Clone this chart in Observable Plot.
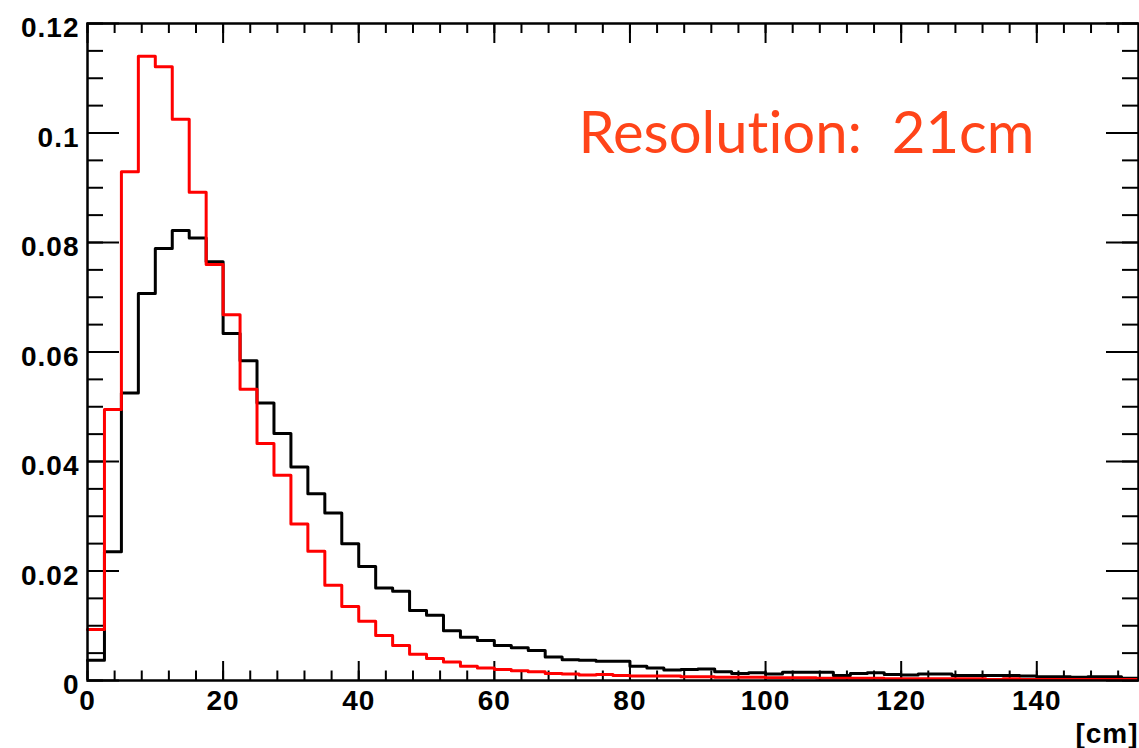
<!DOCTYPE html>
<html><head><meta charset="utf-8">
<script src="https://cdn.jsdelivr.net/npm/d3@7"></script>
<script src="https://cdn.jsdelivr.net/npm/@observablehq/plot@0.6"></script>
<style>html,body{margin:0;padding:0;background:#fff;overflow:hidden;}
svg text{font-variant-ligatures:none;font-feature-settings:"liga" 0;}
.ticklab text{letter-spacing:1px;}</style>
</head><body><div id="chart"></div>
<script>
const binWidth = 2.5;
const xDomain = [0, 155];
const yDomain = [0, 0.12];
const blackValues = [0.0037,0.0235,0.0525,0.0707,0.0789,0.0822,0.0808,0.0765,0.0634,0.0584,
  0.0507,0.0451,0.0390,0.0341,0.0306,0.0250,0.0208,0.0169,0.0163,0.0128,
  0.0119,0.0091,0.0079,0.0073,0.0064,0.0060,0.0055,0.0043,0.0038,0.0037,
  0.0035,0.0035,0.0026,0.0023,0.0019,0.0020,0.0021,0.0016,0.0013,0.0014,
  0.0012,0.0015,0.0015,0.0015,0.0009,0.0013,0.0014,0.0011,0.0010,0.0012,
  0.0012,0.0009,0.0009,0.0009,0.0009,0.0008,0.0007,0.0007,0.0006,0.0007,
  0.0007,0.0004];
const redValues = [0.0093,0.0495,0.0929,0.1140,0.1121,0.1025,0.0892,0.0760,0.0668,0.0532,
  0.0433,0.0375,0.0286,0.0236,0.0174,0.0135,0.0108,0.0082,0.0064,0.0048,
  0.0040,0.0034,0.0026,0.0023,0.0020,0.0018,0.0016,0.0013,0.0012,0.0010,
  0.0011,0.0009,0.0008,0.0008,0.0008,0.0007,0.0007,0.0006,0.0006,0.0006,
  0.0005,0.0005,0.0005,0.0004,0.0004,0.0004,0.0004,0.0003,0.0003,0.0003,
  0.0003,0.0003,0.0003,0.0002,0.0003,0.0002,0.0002,0.0002,0.0002,0.0002,
  0.0002,0.0002];
const xTickValues = [0,20,40,60,80,100,120,140];
const xTickLabels = ["0","20","40","60","80","100","120","140"];
const xMinorStep = 4;
const yTickValues = [0,0.02,0.04,0.06,0.08,0.1,0.12];
const yTickLabels = ["0","0.02","0.04","0.06","0.08","0.1","0.12"];
const yMinorStep = 0.005;
const titleText = "Resolution:\u00a0 21cm";
const xUnitLabel = "[cm]";

function stepData(vals) {
  const pts = vals.map((v, i) => ({x: i * binWidth, y: v}));
  pts.push({x: vals.length * binWidth, y: vals[vals.length - 1]});
  return pts;
}
const blackData = stepData(blackValues);
const redData = stepData(redValues);
const xMinor = d3.range(0, xDomain[1] + 0.001, xMinorStep);
const yMinor = d3.range(0, 24 + 1).map(i => i * yMinorStep);

const W = 1139, H = 748, mT = 23, mB = 68, mL = 87, mR = 1;
const plotH = H - mT - mB, plotW = W - mL - mR;
const font = "'Liberation Sans', Arial, Helvetica, sans-serif";

const chart = Plot.plot({
  width: W, height: H,
  marginTop: mT, marginBottom: mB, marginLeft: mL, marginRight: mR,
  x: {domain: xDomain, label: null},
  y: {domain: yDomain, label: null},
  style: {fontFamily: font, fontSize: "28px", fontWeight: "bold", color: "black", background: "white"},
  marks: [
    Plot.tickX(xMinor, {x: d => d, insetTop: plotH - 9.5, stroke: "black", strokeWidth: 2}),
    Plot.tickX(xTickValues, {x: d => d, insetTop: plotH - 19, stroke: "black", strokeWidth: 2}),
    Plot.tickX(xMinor, {x: d => d, insetBottom: plotH - 10, stroke: "black", strokeWidth: 2}),
    Plot.tickX(xTickValues, {x: d => d, insetBottom: plotH - 20, stroke: "black", strokeWidth: 2}),
    Plot.tickY(yMinor, {y: d => d, insetRight: plotW - 16, stroke: "black", strokeWidth: 2}),
    Plot.tickY(yTickValues, {y: d => d, insetRight: plotW - 32, stroke: "black", strokeWidth: 2}),
    Plot.tickY(yMinor, {y: d => d, insetLeft: plotW - 16, stroke: "black", strokeWidth: 2}),
    Plot.tickY(yTickValues, {y: d => d, insetLeft: plotW - 32, stroke: "black", strokeWidth: 2}),
    Plot.lineY(blackData, {x: "x", y: "y", curve: "step-after", stroke: "black", strokeWidth: 3}),
    Plot.lineY(redData, {x: "x", y: "y", curve: "step-after", stroke: "#ff0000", strokeWidth: 3}),
    Plot.frame({stroke: "black", strokeWidth: 2.5}),
    Plot.axisX(xTickValues, {tickSize: 0, tickPadding: 10, label: null, className: "ticklab",
      tickFormat: d => xTickLabels[xTickValues.indexOf(d)], fontSize: 28, fontWeight: "bold"}),
    Plot.axisY(yTickValues, {tickSize: 0, tickPadding: 8, label: null, dy: 5, className: "ticklab",
      tickFormat: d => yTickLabels[yTickValues.indexOf(d)], fontSize: 28, fontWeight: "bold"}),
    Plot.text([titleText], {frameAnchor: "top-left", dx: 491, dy: 129, lineAnchor: "bottom", textAnchor: "start",
      fill: "#ff4419", fontSize: 58, fontWeight: "normal", fontFamily: "Lato, 'Open Sans', sans-serif"}),
    Plot.text([xUnitLabel], {frameAnchor: "bottom-right", textAnchor: "end", lineAnchor: "bottom", dy: 62,
      fontSize: 28, fontWeight: "bold", className: "ticklab"})
  ]
});
document.getElementById("chart").appendChild(chart);
</script>
</body></html>
